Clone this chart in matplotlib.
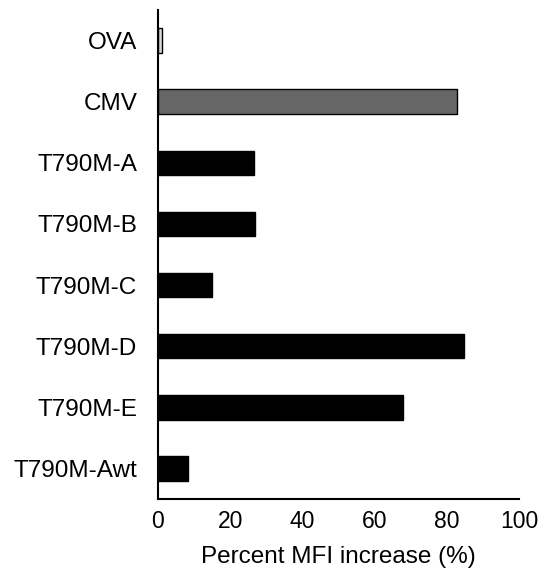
import matplotlib
matplotlib.use("Agg")
import matplotlib.pyplot as plt

categories = ["OVA", "CMV", "T790M-A", "T790M-B", "T790M-C", "T790M-D", "T790M-E", "T790M-Awt"]
values = [1.2, 82.8, 26.6, 27.0, 15.0, 84.7, 68.0, 8.2]
colors = ["#d9d9d9", "#666666", "black", "black", "black", "black", "black", "black"]
xticks = [0, 20, 40, 60, 80, 100]

plt.rcParams['font.family'] = ['Liberation Sans', 'DejaVu Sans']
fig = plt.figure(figsize=(5.47, 5.78), dpi=100)
ax = fig.add_axes([158/547, 79/578, 361/547, 489/578])
pos = list(range(len(categories)))
ax.barh(pos, values, height=0.4, color=colors, edgecolor="black", linewidth=1)
ax.set_ylim(len(categories) - 0.5, -0.5)
ax.set_xlim(0, 100)
ax.set_yticks(pos)
ax.set_yticklabels(categories, fontsize=17.5)
ax.set_xticks(xticks)
ax.set_xticklabels([str(t) for t in xticks], fontsize=16.5)
ax.tick_params(axis='y', length=0, pad=15)
ax.tick_params(axis='x', length=0, pad=8)
for s in ["top", "right"]:
    ax.spines[s].set_visible(False)
for s in ["left", "bottom"]:
    ax.spines[s].set_linewidth(1.5)
ax.set_xlabel("Percent MFI increase (%)", fontsize=17.5, labelpad=9)
fig.savefig("out.png", dpi=100)
